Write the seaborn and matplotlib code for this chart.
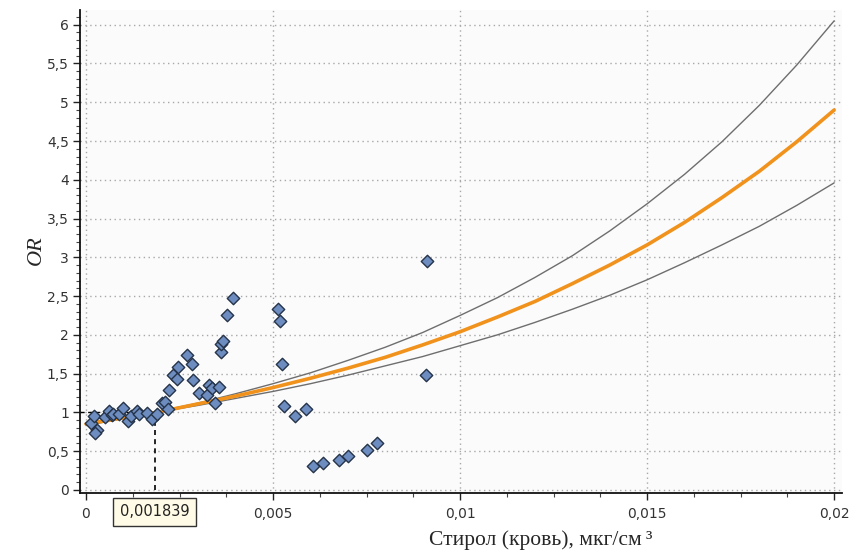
import numpy as np
import pandas as pd
import matplotlib
matplotlib.use("Agg")
import matplotlib.pyplot as plt
import matplotlib.transforms as mtransforms
from matplotlib.ticker import MultipleLocator
import seaborn as sns

# точки наблюдений: стирол в крови (мкг/см3) и OR
styrene = [0.00013, 0.00021, 0.00029, 0.00024, 0.00051, 0.00062, 0.00069, 0.00073,
           0.00089, 0.00098, 0.00113, 0.0012, 0.00137, 0.00143, 0.00162, 0.00176,
           0.00189, 0.00202, 0.00212, 0.00218, 0.00223, 0.00233, 0.00244, 0.00247,
           0.00269, 0.00283, 0.00285, 0.00303, 0.00323, 0.0033, 0.00336, 0.00345,
           0.00356, 0.0036, 0.00362, 0.00365, 0.00378, 0.00392,
           0.00514, 0.00519, 0.00525, 0.00529, 0.00559, 0.00588, 0.00608, 0.00633,
           0.00677, 0.007, 0.00752, 0.00777, 0.00908, 0.00911]
odds = [0.86, 0.95, 0.77, 0.73, 0.94, 1.02, 0.97, 0.98,
        0.98, 1.05, 0.89, 0.95, 1.02, 0.98, 0.99, 0.91,
        0.98, 1.12, 1.14, 1.04, 1.29, 1.48, 1.43, 1.59,
        1.74, 1.63, 1.42, 1.25, 1.23, 1.35, 1.31, 1.12,
        1.33, 1.78, 1.88, 1.92, 2.26, 2.47,
        2.33, 2.18, 1.63, 1.08, 0.95, 1.04, 0.31, 0.35,
        0.39, 0.44, 0.51, 0.60, 1.48, 2.95]

# модель и доверительные границы
curve_x = [0.0, 0.001, 0.002, 0.003, 0.004, 0.005, 0.006, 0.007, 0.008, 0.009, 0.01,
           0.011, 0.012, 0.013, 0.014, 0.015, 0.016, 0.017, 0.018, 0.019, 0.02]
curve_mid = [0.85, 0.93, 1.01, 1.11, 1.21, 1.32, 1.44, 1.57, 1.71, 1.87, 2.04,
             2.23, 2.43, 2.66, 2.90, 3.16, 3.45, 3.77, 4.11, 4.49, 4.90]
curve_up = [0.83, 0.92, 1.02, 1.12, 1.24, 1.37, 1.51, 1.67, 1.84, 2.03, 2.25,
            2.48, 2.74, 3.02, 3.34, 3.69, 4.07, 4.49, 4.96, 5.48, 6.05]
curve_low = [0.87, 0.94, 1.01, 1.09, 1.18, 1.27, 1.37, 1.48, 1.60, 1.72, 1.86,
             2.00, 2.16, 2.33, 2.51, 2.71, 2.93, 3.16, 3.40, 3.67, 3.96]

threshold = 0.001839
threshold_label = "0,001839"

x_ticks = [0, 0.005, 0.01, 0.015, 0.02]
x_tick_labels = ["0", "0,005", "0,01", "0,015", "0,02"]
y_ticks = [0, 0.5, 1, 1.5, 2, 2.5, 3, 3.5, 4, 4.5, 5, 5.5, 6]
y_tick_labels = ["0", "0,5", "1", "1,5", "2", "2,5", "3", "3,5", "4", "4,5", "5", "5,5", "6"]

pts = pd.DataFrame({"x": styrene, "y": odds})
lines = pd.DataFrame({"x": curve_x, "mid": curve_mid, "up": curve_up, "low": curve_low})

sns.set_style("white")
plt.rcParams["font.family"] = ["DejaVu Sans"]

fig = plt.figure(figsize=(8.56, 5.54), dpi=100)
ax = fig.add_axes([80 / 856, 1 - 493 / 554, 762 / 856, 483 / 554])
ax.set_facecolor("#fbfbfb")

sns.lineplot(data=lines, x="x", y="up", ax=ax, color="#6e6e6e", lw=1.0, zorder=2)
sns.lineplot(data=lines, x="x", y="low", ax=ax, color="#6e6e6e", lw=1.0, zorder=2)
sns.lineplot(data=lines, x="x", y="mid", ax=ax, color="#f0921c", lw=2.6, zorder=3)

# пороговая концентрация
ax.plot([threshold, threshold], [0, 1.0], color="black", ls=(0, (3, 2.5)), lw=1.2, zorder=4)
ax.plot([-0.00016, threshold], [1.0, 1.0], color="black", ls=(0, (3, 2.5)), lw=1.0, zorder=1)

sns.scatterplot(data=pts, x="x", y="y", ax=ax, marker="D", s=40,
                color="#6d8cbf", edgecolor="#26344a", linewidth=1.0, zorder=5)

ax.set_xlim(-0.00016, 0.02021)
ax.set_ylim(-0.04, 6.19)
ax.set_xticks(x_ticks)
ax.set_xticklabels(x_tick_labels)
ax.set_yticks(y_ticks)
ax.set_yticklabels(y_tick_labels)
ax.xaxis.set_minor_locator(MultipleLocator(0.00125))
ax.yaxis.set_minor_locator(MultipleLocator(0.1))
ax.tick_params(axis="both", which="major", length=5, width=1, color="#222222",
               labelsize=10, labelcolor="#333333", direction="out", pad=3,
               left=True, bottom=True)
ax.tick_params(axis="both", which="minor", length=3, width=0.8, color="#444444",
               direction="out", left=True, bottom=True)
ax.tick_params(axis="x", which="major", pad=5)
ax.grid(True, which="major", color="#a8a8a8", ls=(0, (1, 2.5)), lw=1.0)
ax.set_axisbelow(True)
for side in ["top", "right"]:
    ax.spines[side].set_visible(False)
for side in ["left", "bottom"]:
    ax.spines[side].set_color("#111111")
    ax.spines[side].set_linewidth(1.3)

ax.set_xlabel("")
ax.set_ylabel("")
fig.text(541 / 856, 1 - 540 / 554, "Стирол (кровь), мкг/см\u2009³", ha="center", va="center",
         family=["Liberation Serif", "DejaVu Serif"], fontsize=15.5)
fig.text(36 / 856, 1 - 250 / 554, "OR", ha="center", va="center", rotation=90,
         family=["Liberation Serif"], style="italic", fontsize=16)

# подпись порога под осью
trans = mtransforms.blended_transform_factory(ax.transData, ax.transAxes)
ax.text(threshold, -0.023, threshold_label, transform=trans, ha="center", va="top",
        fontsize=10.5, color="#222222",
        bbox=dict(boxstyle="square,pad=0.45", facecolor="#fffbe6", edgecolor="#333333", lw=1.0),
        zorder=6, clip_on=False)

fig.savefig("out.png", dpi=100)
